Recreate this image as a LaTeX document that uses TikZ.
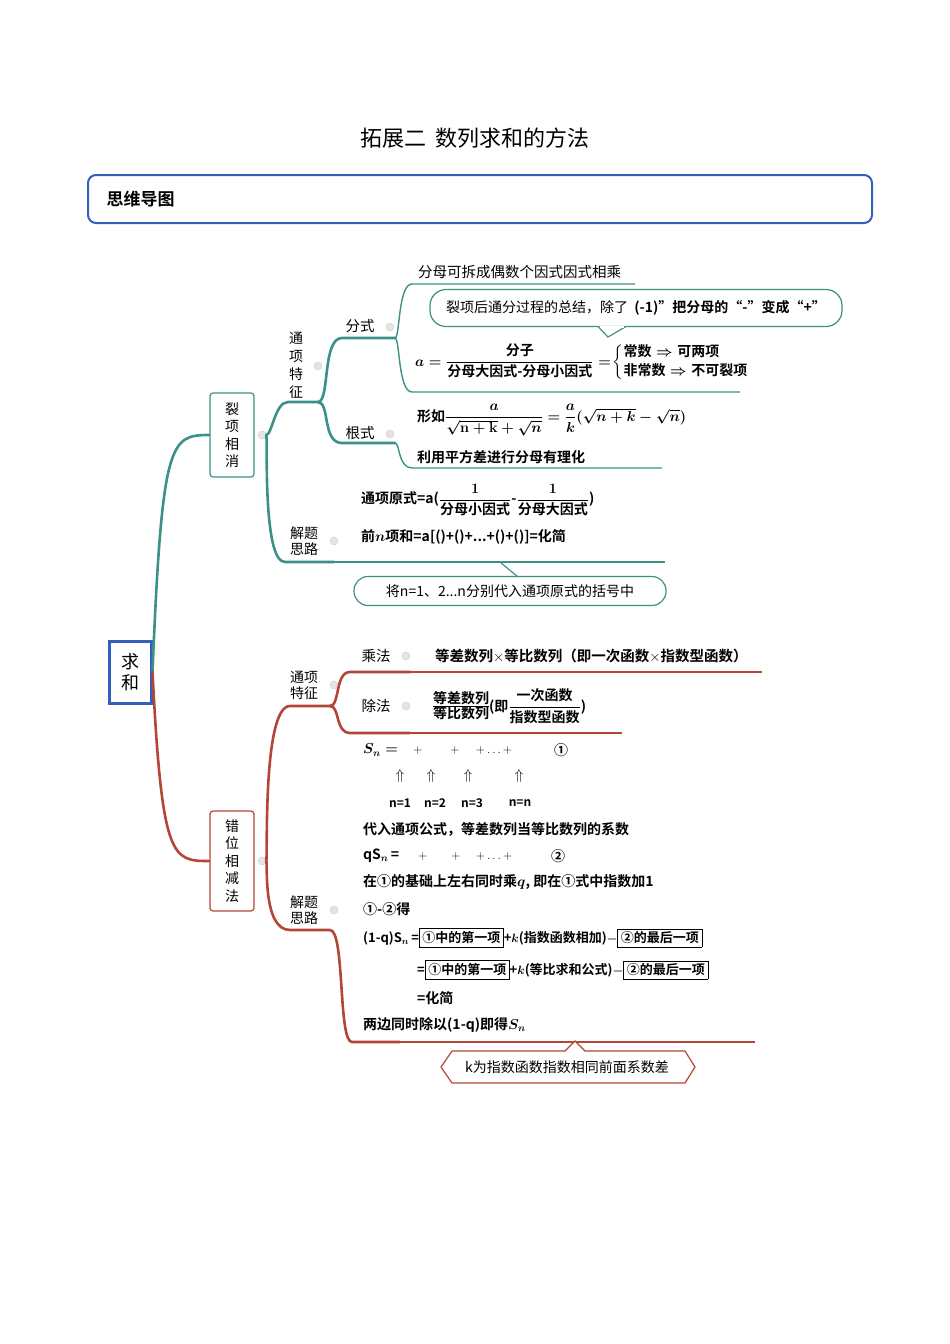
\documentclass[tikz,border=0pt]{standalone}
\usepackage{amsmath}
\usepackage{fontspec}
\setmainfont{Noto Sans CJK SC}[BoldFont={Noto Sans CJK SC Bold}]
\definecolor{tl}{RGB}{60,145,135}
\definecolor{rd}{RGB}{180,70,55}
\definecolor{bl}{RGB}{50,95,190}
\tikzset{
 tline/.style={draw=tl,line width=2.6pt,line cap=round},
 tthin/.style={draw=tl,line width=1.4pt},
 rline/.style={draw=rd,line width=2.6pt,line cap=round},
 rthin/.style={draw=rd,line width=1.4pt},
 dot/.style={circle,fill=gray!20,draw=gray!40,inner sep=0pt,minimum size=8pt},
 lab/.style={font=\fontsize{14.5}{16}\selectfont,inner sep=1pt},
 txt/.style={font=\fontsize{14}{17}\selectfont\bfseries\boldmath,anchor=west,inner sep=1pt},
 vbox/.style={draw,line width=1.2pt,rounded corners=3pt,align=center,font=\fontsize{14}{17.5}\selectfont,inner sep=3pt}
}
\begin{document}
\begin{tikzpicture}[x=1pt,y=-1pt]
\useasboundingbox (0,0) rectangle (950,1344);
\node[font=\fontsize{22}{24}\selectfont] (title) at (475,138) {拓展二\ \ 数列求和的方法};
\draw[bl,line width=2pt,rounded corners=8pt] (88,175) rectangle (872,223);
\node[anchor=west,font=\fontsize{17}{19}\selectfont\bfseries] (mm) at (103,199) {思维导图};
% root
\node[draw=bl,line width=3pt,minimum width=42pt,minimum height=62pt,align=center,font=\fontsize{18}{21}\selectfont] (root) at (130,672) {求\\和};
\node[vbox,draw=tl,minimum width=44pt,minimum height=84pt] (lx) at (232,435) {裂\\项\\相\\消};
\node[vbox,draw=rd,minimum width=44pt,minimum height=100pt] (cw) at (232,861) {错\\位\\相\\减\\法};
\draw[tline] (root.east) .. controls (162,440) and (170,435) .. (lx.west);
\draw[rline] (root.east) .. controls (162,860) and (172,861) .. (cw.west);
% teal top
\node[dot] (d1) at (262,435) {};
\node[lab,align=center,font=\fontsize{14}{18}\selectfont] (tx1) at (296,365) {通\\项\\特\\征};
\node[dot] (d2) at (318,366) {};
\draw[tline] (d1) .. controls (272,435) and (275,402) .. (288,402) -- (318,402);
\coordinate (j1) at (318,402);
\draw[tline] (j1) .. controls (330,402) and (322,338) .. (342,338) -- (395,338);
\draw[tline] (j1) .. controls (330,402) and (322,443) .. (342,443) -- (395,443);
\node[lab] (fs) at (360,326) {分式};
\node[dot] (d3) at (390,327) {};
\node[lab] (gs) at (360,433) {根式};
\node[dot] (d4) at (390,434) {};
\draw[tthin] (395,338) .. controls (400,338) and (398,284) .. (412,284) -- (635,284);
\draw[tthin] (395,338) .. controls (400,338) and (398,392) .. (412,392) -- (740,392);
\node[lab,anchor=west] (t1) at (417,272) {分母可拆成偶数个因式因式相乘};
\node[draw=tl,line width=1.2pt,rounded corners=16pt,minimum width=412pt,minimum height=37pt,fill=white] (note) at (636,308) {};
\draw[tl,line width=1.2pt,fill=white] (598,326.5) -- (608,337) -- (626,326.5);
\draw[white,line width=2pt] (600,326.5) -- (624,326.5);
\node[lab,font=\fontsize{14}{16}\selectfont] (notet) at (636,308) {裂项后通分过程的总结，除了\ \ {\bfseries(-1)"把分母的“-”变成“+”}};
\node[txt] (f1) at (414,362) {$a=\dfrac{\text{分子}}{\text{分母大因式-分母小因式}}=\!\left\{\begin{array}{@{}l@{}}\text{常数}\Rightarrow\text{可两项}\\[2pt] \text{非常数}\Rightarrow\text{不可裂项}\end{array}\right.$};
\draw[tthin] (395,443) .. controls (400,443) and (398,468) .. (412,468) -- (662,468);
\node[txt] (f2) at (416,420) {形如$\dfrac{a}{\sqrt{\mathbf{n+k}}+\sqrt{n}}=\dfrac{a}{k}(\sqrt{n+k}-\sqrt{n})$};
\node[txt] (f3) at (416,457) {利用平方差进行分母有理化};
% 解题思路 teal
\node[lab,align=center,font=\fontsize{14}{16}\selectfont] (jt1) at (304,541) {解题\\思路};
\node[dot] (d5) at (334,541) {};
\draw[tline] (d1) .. controls (268,435) and (262,562) .. (285,562) -- (334,562);
\draw[tthin] (334,562) -- (665,562);
\node[txt] (f4) at (360,500) {通项原式=a($\dfrac{1}{\text{分母小因式}}$-$\dfrac{1}{\text{分母大因式}}$)};
\node[txt] (f5) at (360,537) {前$n$项和=a[()+()+...+()+()]=化简};
\node[draw=tl,line width=1.2pt,rounded corners=14pt,minimum width=312pt,minimum height=29pt,fill=white,lab,font=\fontsize{14}{16}\selectfont] (n2) at (510,591) {将n=1、2...n分别代入通项原式的括号中};
\draw[tl,line width=1.2pt] (500,562) -- (518,577);
% red
\node[dot] (d6) at (262,861) {};
\node[lab,align=center,font=\fontsize{14}{16}\selectfont] (tx2) at (304,685) {通项\\特征};
\node[dot] (d7) at (334,685) {};
\draw[rline] (d6) .. controls (268,861) and (262,706) .. (290,706) -- (330,706);
\coordinate (j2) at (330,706);
\draw[rline] (j2) .. controls (340,706) and (335,672) .. (350,672) -- (410,672);
\draw[rline] (j2) .. controls (340,706) and (335,733) .. (350,733) -- (410,733);
\draw[rthin] (410,672) -- (762,672);
\draw[rthin] (410,733) -- (622,733);
\node[lab] (cf) at (376,656) {乘法};
\node[dot] (d8) at (406,656) {};
\node[lab] (chf) at (376,706) {除法};
\node[dot] (d9) at (406,706) {};
\node[txt,font=\fontsize{14.5}{17}\selectfont\bfseries] (g1) at (434,656) {等差数列$\times$等比数列（即一次函数$\times$指数型函数）};
\node[txt] (g2) at (432,706) {$\begin{array}{@{}c@{}}\text{等差数列}\\[-3pt]\hline\text{等比数列}\end{array}$(即$\dfrac{\text{一次函数}}{\text{指数型函数}}$)};
\node[lab,align=center,font=\fontsize{14}{16}\selectfont] (jt2) at (304,910) {解题\\思路};
\node[dot] (d10) at (334,910) {};
\draw[rline] (d6) .. controls (268,861) and (262,930) .. (290,930) -- (330,930);
\draw[rline] (330,930) .. controls (345,930) and (338,1042) .. (352,1042) -- (400,1042);
\draw[rthin] (400,1042) -- (755,1042);
\node[txt] (h1) at (362,750) {$S_{n}=$};
\foreach \x/\s in {418/+,455/+,494/+\ldots+}{\node[font=\fontsize{12}{13}\selectfont\bfseries] at (\x,750) {$\s$};}
\node[txt] at (553,750) {①};
\foreach \x in {400,431,468,519}{\node[font=\fontsize{14}{14}\selectfont] at (\x,776) {$\Uparrow$};}
\foreach \x/\s in {400/n=1,435/n=2,472/n=3,520/n=n}{\node[font=\fontsize{12}{12}\selectfont\bfseries\rmfamily] at (\x,803) {\s};}
\node[txt] (h2) at (362,829) {代入通项公式，等差数列当等比数列的系数};
\node[txt] (h3) at (362,856) {qS$_n$\,=};
\foreach \x/\s in {423/+,456/+,494/+\ldots+}{\node[font=\fontsize{12}{13}\selectfont\bfseries] at (\x,856) {$\s$};}
\node[txt] at (550,856) {②};
\node[txt] (h4) at (362,882) {在①的基础上左右同时乘$q$, 即在①式中指数加1};
\node[txt] (h5) at (362,909) {①-②得};
\node[txt,font=\fontsize{13}{16}\selectfont\bfseries\boldmath] (h6) at (362,938) {(1-q)S$_n$\,=\fbox{①中的第一项}+$k$(指数函数相加)$-$\fbox{②的最后一项}};
\node[txt,font=\fontsize{13}{16}\selectfont\bfseries\boldmath] (h7) at (416,970) {=\fbox{①中的第一项}+$k$(等比求和公式)$-$\fbox{②的最后一项}};
\node[txt] (h8) at (416,998) {=化简};
\node[txt] (h9) at (362,1025) {两边同时除以(1-q)即得$S_n$};
\draw[rd,line width=1.2pt,fill=white] (452,1051) -- (565,1051) -- (575,1041) -- (585,1051) -- (685,1051) -- (695,1067) -- (685,1083) -- (452,1083) -- (441,1067) -- cycle;
\node[lab,font=\fontsize{14}{16}\selectfont] (k) at (567,1067) {k为指数函数指数相同前面系数差};
\end{tikzpicture}
\end{document}
